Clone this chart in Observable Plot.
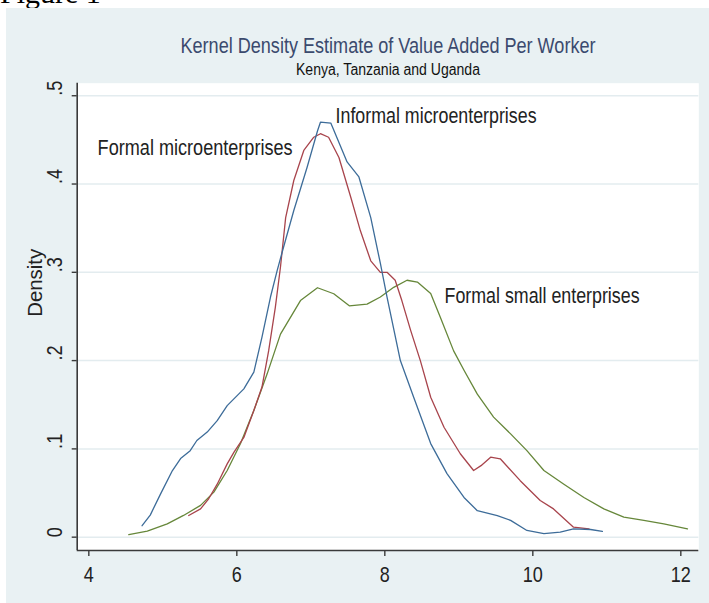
<!DOCTYPE html>
<html>
<head>
<meta charset="utf-8">
<script src="https://cdn.jsdelivr.net/npm/d3@7"></script>
<script src="https://cdn.jsdelivr.net/npm/@observablehq/plot@0.6"></script>
<style>
  html, body { margin: 0; padding: 0; background: #ffffff; width: 709px; height: 603px; overflow: hidden; }
  #fig { position: absolute; left: 0; top: -22px; font-family: "Liberation Serif", "Times New Roman", serif; font-size: 30px; line-height: 30px; color: #000; white-space: nowrap; }
  #panel { position: absolute; left: 6px; top: 8px; width: 703px; height: 595px; background: #e9f1f3; }
  #panel svg { display: block; }
</style>
</head>
<body>
<div id="fig">Figure 1</div>
<div id="panel"></div>
<script>
const titleText = "Kernel Density Estimate of Value Added Per Worker";
const subtitleText = "Kenya, Tanzania and Uganda";
const yLabelText = "Density";

const xTicks = [4, 6, 8, 10, 12];
const yTicks = [0, 0.1, 0.2, 0.3, 0.4, 0.5];
const xDomain = [3.843, 12.243];
const yDomain = [-0.0151, 0.5142];

// Informal microenterprises (blue)
const informalX = [4.72,4.83,4.97,5.13,5.24,5.37,5.46,5.60,5.735,5.87,6.095,6.23,6.34,6.455,6.545,6.62,6.77,6.95,7.09,7.13,7.27,7.49,7.65,7.81,7.94,8.03,8.21,8.39,8.62,8.84,9.07,9.25,9.52,9.70,9.92,10.15,10.37,10.55,10.78,10.94];
const informalY = [0.013,0.025,0.049,0.0755,0.089,0.098,0.1095,0.119,0.132,0.149,0.168,0.187,0.2265,0.272,0.302,0.325,0.37,0.419,0.46,0.470,0.469,0.425,0.408,0.362,0.31,0.272,0.20,0.1585,0.106,0.072,0.045,0.030,0.0245,0.019,0.0076,0.004,0.0057,0.0095,0.0087,0.0065];

// Formal microenterprises (red)
const formalMicroX = [5.35,5.51,5.62,5.735,5.87,5.96,6.095,6.23,6.34,6.43,6.52,6.59,6.66,6.77,6.905,7.04,7.13,7.24,7.38,7.54,7.67,7.81,7.94,8.03,8.14,8.23,8.35,8.48,8.62,8.80,9.02,9.20,9.30,9.43,9.56,9.83,10.10,10.28,10.55,10.76];
const formalMicroY = [0.0246,0.032,0.0435,0.060,0.083,0.096,0.113,0.1435,0.17,0.211,0.26,0.306,0.362,0.404,0.438,0.453,0.457,0.453,0.430,0.385,0.347,0.313,0.300,0.300,0.291,0.268,0.234,0.200,0.1585,0.1245,0.0945,0.0755,0.081,0.0906,0.0888,0.064,0.0416,0.032,0.0113,0.0095];

// Formal small enterprises (green)
const formalSmallX = [4.54,4.79,5.06,5.28,5.51,5.69,5.87,6.05,6.23,6.41,6.59,6.86,7.09,7.31,7.52,7.76,7.94,8.12,8.30,8.44,8.62,8.75,8.93,9.07,9.25,9.47,9.70,9.92,10.15,10.42,10.69,10.96,11.23,11.5,11.77,12.09];
const formalSmallY = [0.003,0.0068,0.015,0.0246,0.036,0.051,0.0755,0.106,0.1435,0.185,0.230,0.268,0.2825,0.2757,0.262,0.264,0.272,0.283,0.291,0.289,0.276,0.249,0.211,0.189,0.162,0.136,0.117,0.098,0.0755,0.060,0.045,0.032,0.0226,0.019,0.015,0.0095];

const seriesNames = ["Informal microenterprises", "Formal microenterprises", "Formal small enterprises"];
const seriesColors = ["#3d6c99", "#a8444c", "#66873a"];
const labelX = [7.334, 4.119, 8.807];
const labelY = [0.4776, 0.4411, 0.2735];

const sans = '"Liberation Sans", Arial, sans-serif';

const toRows = (xs, ys) => xs.map((x, i) => ({x, y: ys[i]}));
const informal = toRows(informalX, informalY);
const formalMicro = toRows(formalMicroX, formalMicroY);
const formalSmall = toRows(formalSmallX, formalSmallY);
const labels = seriesNames.map((name, i) => ({name, x: labelX[i], y: labelY[i]}));

const fmtY = d => d === 0 ? "0" : d.toFixed(1).replace(/^0/, "");

const chart = Plot.plot({
  width: 703,
  height: 595,
  marginLeft: 70.7,
  marginRight: 10.7,
  marginTop: 74.7,
  marginBottom: 53,
  style: {background: "transparent", fontFamily: sans, color: "#222"},
  x: {domain: xDomain},
  y: {domain: yDomain},
  marks: [
    Plot.frame({fill: "#ffffff", stroke: null}),
    Plot.ruleY(yTicks, {stroke: "#e3ecef", strokeWidth: 1.5}),
    Plot.line(formalSmall, {x: "x", y: "y", stroke: seriesColors[2], strokeWidth: 1.3}),
    Plot.line(formalMicro, {x: "x", y: "y", stroke: seriesColors[1], strokeWidth: 1.3}),
    Plot.line(informal, {x: "x", y: "y", stroke: seriesColors[0], strokeWidth: 1.3}),
    Plot.ruleX([xDomain[0]], {stroke: "#3a3a3a", strokeWidth: 1.6}),
    Plot.ruleY([yDomain[0]], {stroke: "#3a3a3a", strokeWidth: 1.6}),
    Plot.axisX({ticks: xTicks, tickSize: 6, tickPadding: 10, fontSize: 22, label: null, stroke: "#3a3a3a", strokeWidth: 1.4, tickFormat: d => String(d)}),
    Plot.axisY({ticks: yTicks, tickSize: 5, tickFormat: () => "", label: null, stroke: "#3a3a3a", strokeWidth: 1.4}),
    Plot.text(yTicks, {y: d => d, text: fmtY, frameAnchor: "left", dx: -22, rotate: -90, fontSize: 22, fill: "#222"}),
    Plot.text([yLabelText], {text: d => d, frameAnchor: "left", dx: -42, rotate: -90, fontSize: 21, fill: "#222"}),
    Plot.text(labels, {x: "x", y: "y", text: "name", textAnchor: "start", lineAnchor: "middle", fontSize: 22, fill: "#222"}),
    Plot.text([titleText], {text: d => d, frameAnchor: "top", lineAnchor: "middle", dy: -37, fontSize: 22, fill: "#3b4a6e"}),
    Plot.text([subtitleText], {text: d => d, frameAnchor: "top", lineAnchor: "middle", dy: -13, fontSize: 16, fill: "#111"})
  ]
});
document.getElementById("panel").appendChild(chart);

// Condense the Arial-metric text horizontally to mimic the narrow font of the original
const targetWidths = {
  [titleText]: 415,
  [subtitleText]: 184,
  "Informal microenterprises": 201,
  "Formal microenterprises": 195,
  "Formal small enterprises": 195,
  [yLabelText]: 68
};
chart.querySelectorAll("text").forEach(t => {
  const s = t.textContent;
  if (!s) return;
  const w = t.getComputedTextLength();
  const target = targetWidths[s] !== undefined ? targetWidths[s] : w * 0.82;
  t.setAttribute("textLength", target.toFixed(1));
  t.setAttribute("lengthAdjust", "spacingAndGlyphs");
});
</script>
</body>
</html>
